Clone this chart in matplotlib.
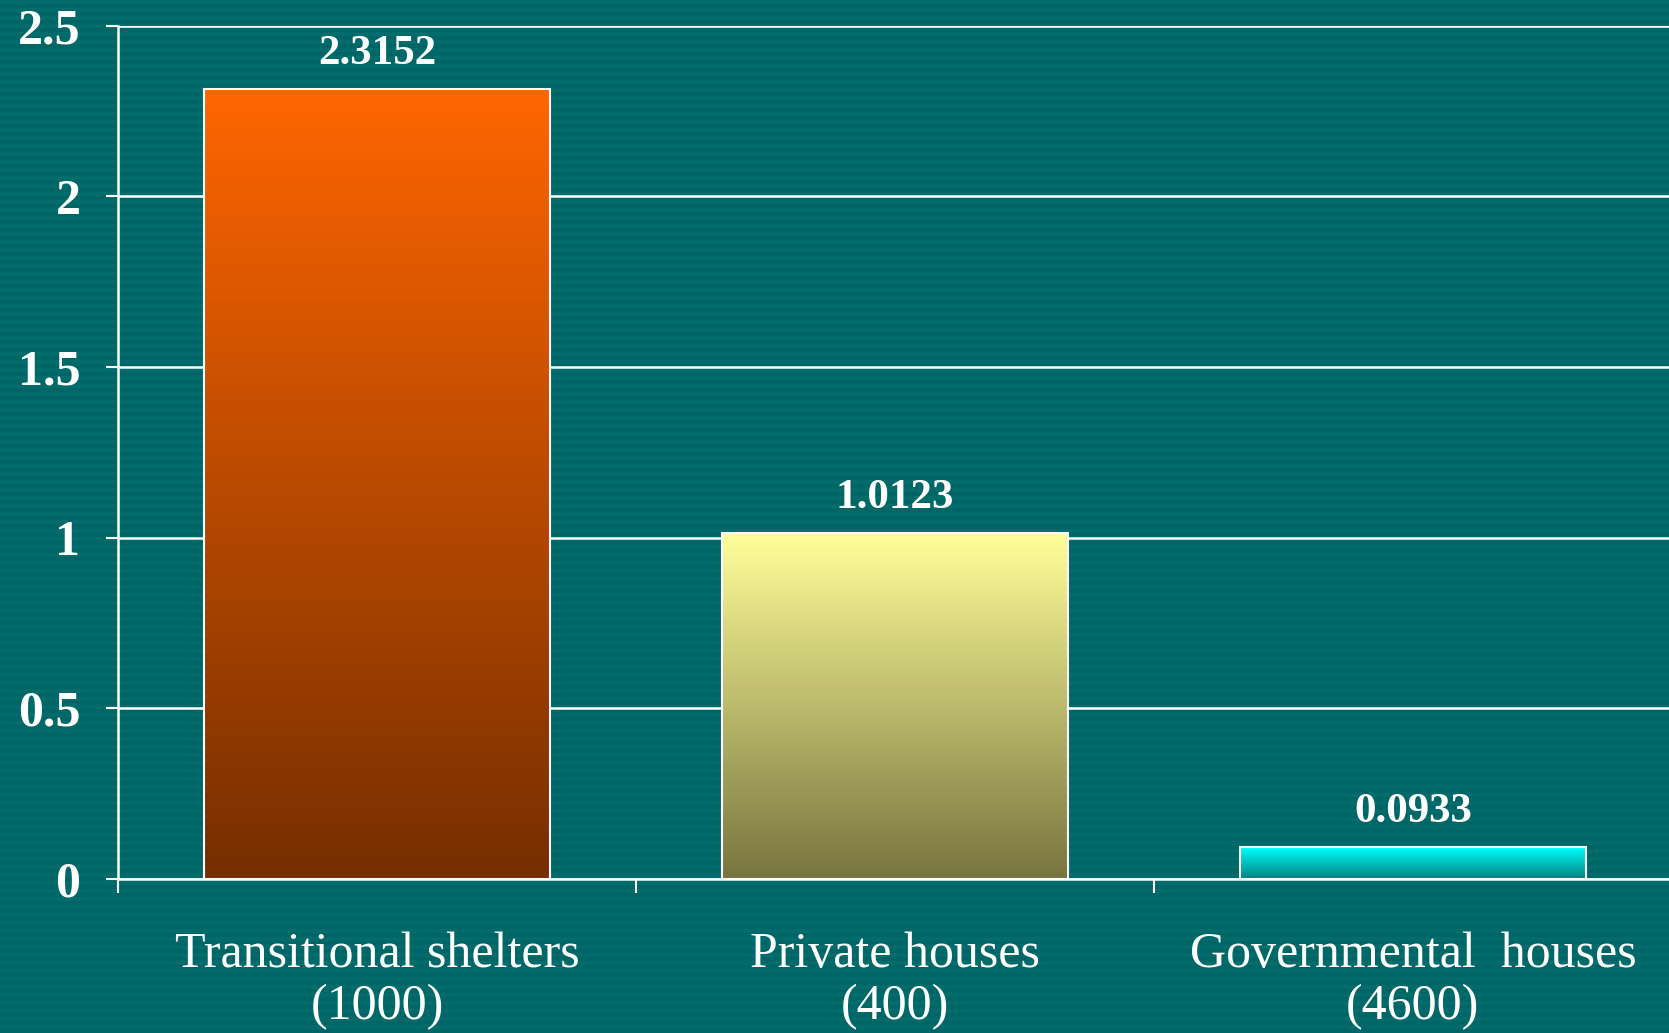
import matplotlib
matplotlib.use("Agg")
import matplotlib.pyplot as plt
import numpy as np
from matplotlib.colors import LinearSegmentedColormap

# Data
categories = ["Transitional shelters\n(1000)", "Private houses\n(400)",
              "Governmental  houses\n(4600)"]
values = [2.3152, 1.0123, 0.0933]
value_labels = ["2.3152", "1.0123", "0.0933"]
yticks = [0, 0.5, 1, 1.5, 2, 2.5]
ytick_labels = ["0", "0.5", "1", "1.5", "2", "2.5"]

# top colour, bottom colour of each bar gradient
bar_grads = [("#FF6600", "#762E00"), ("#FFFF99", "#78743F"), ("#00FFFF", "#00807E")]

bg = "#006868"
plt.rcParams["font.family"] = ["Liberation Serif", "DejaVu Serif"]

fig = plt.figure(figsize=(16.69, 10.33), dpi=100)
fig.patch.set_facecolor(bg)

# faint horizontal stripes in the background
bg_ax = fig.add_axes([0, 0, 1, 1], zorder=0)
stripes = np.zeros((1033 // 4, 1))
stripes[::2] = 1
bg_cmap = LinearSegmentedColormap.from_list("bg", ["#006565", "#026c6c"])
bg_ax.imshow(stripes, aspect="auto", cmap=bg_cmap, extent=[0, 1, 0, 1],
             interpolation="nearest")
bg_ax.axis("off")

ax = fig.add_axes([0.0707, 0.149, 0.931, 0.8262], zorder=1)
ax.patch.set_alpha(0)

x = np.arange(len(values))
bars = ax.bar(x, values, width=0.667, color="none", edgecolor="white",
              linewidth=1.5, zorder=3)

grad = np.linspace(1, 0, 256).reshape(-1, 1)
for bar, (top, bottom) in zip(bars, bar_grads):
    cmap = LinearSegmentedColormap.from_list("g", [bottom, top])
    x0, w, h = bar.get_x(), bar.get_width(), bar.get_height()
    im = ax.imshow(grad, cmap=cmap, aspect="auto", extent=[x0, x0 + w, 0, h],
                   zorder=2, interpolation="bicubic")
    im.set_clip_path(bar)

for xi, v, lab in zip(x, values, value_labels):
    ax.annotate(lab, (xi, v), xytext=(0, 18), textcoords="offset points",
                ha="center", va="baseline", fontsize=31, fontweight="bold",
                color="white")

ax.set_xlim(-0.5, 2.5)
ax.set_ylim(0, 2.5)
ax.set_yticks(yticks)
ax.set_yticklabels(ytick_labels, fontsize=36, fontweight="bold", color="white")
ax.set_xticks([-0.5, 0.5, 1.5])
ax.set_xticklabels([])
ax.set_xticks(x, minor=True)
ax.set_xticklabels(categories, minor=True, fontsize=36, color="white",
                   linespacing=1.15)
ax.tick_params(axis="x", which="minor", length=0, pad=38)
ax.tick_params(axis="x", which="major", length=10, width=1.5, color="white",
               direction="out")
ax.tick_params(axis="y", length=9, width=1.5, color="white", pad=18)

ax.yaxis.grid(True, color="white", linewidth=1.8, zorder=1)
ax.set_axisbelow(True)
for side in ["top", "right"]:
    ax.spines[side].set_visible(False)
for side in ["left", "bottom"]:
    ax.spines[side].set_color("white")
    ax.spines[side].set_linewidth(1.8)
    ax.spines[side].set_zorder(4)

fig.savefig("out.png", dpi=100, facecolor=bg)
